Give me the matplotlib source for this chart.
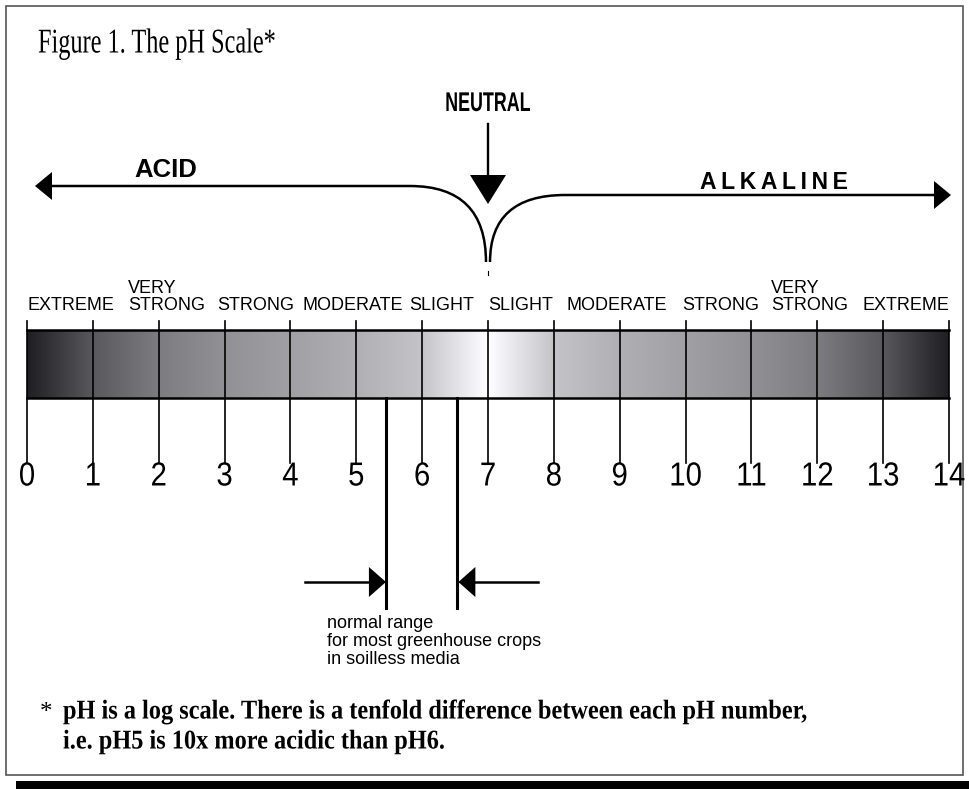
import numpy as np
import matplotlib
matplotlib.use("Agg")
import matplotlib.pyplot as plt
from matplotlib.patches import Polygon, Rectangle, PathPatch
from matplotlib.path import Path
from matplotlib.patheffects import AbstractPathEffect
from matplotlib.transforms import Affine2D

# pH scale data
ph_values = list(range(0, 15))
ph_labels = [str(v) for v in ph_values]
# grey level of the bar at every whole pH (0 = black, 1 = white)
bar_grey = [0.12, 0.35, 0.49, 0.57, 0.63, 0.69, 0.77, 1.0,
            0.77, 0.69, 0.63, 0.57, 0.49, 0.35, 0.12]
strength_labels = ["EXTREME", "VERY\nSTRONG", "STRONG", "MODERATE", "SLIGHT",
                   "SLIGHT", "MODERATE", "STRONG", "VERY\nSTRONG", "EXTREME"]
strength_pos = [0.67, 1.53, 3.47, 4.94, 6.30, 7.49, 8.95, 10.54, 11.30, 13.35]
strength_ha = ["center", "left", "center", "center", "center",
               "center", "center", "center", "left", "center"]
neutral_ph = 7
normal_range = [5.45, 6.53]

W, H = 969, 789
px_per_ph = 922 / 14.0
x0_px = 27

def ph(xpx):
    # pixel column -> pH position
    return (xpx - x0_px) / px_per_ph


class Condense(AbstractPathEffect):
    # squeeze the glyphs sideways around the text anchor (narrow type face look)
    def __init__(self, text, sx):
        super().__init__()
        self.text = text
        self.sx = sx

    def draw_path(self, renderer, gc, tpath, affine, rgbFace=None):
        x0 = self.text.get_transform().transform(self.text.get_position())[0]
        t = affine + Affine2D().translate(-x0, 0).scale(self.sx, 1).translate(x0, 0)
        renderer.draw_path(gc, tpath, t, rgbFace)


fig = plt.figure(figsize=(W / 100, H / 100), dpi=100)
ax = fig.add_axes([0, 0, 1, 1])
ax.set_xlim(ph(0), ph(W))
ax.set_ylim(H, 0)
ax.axis("off")

sans = ["Liberation Sans", "DejaVu Sans"]
serif = ["Liberation Serif", "DejaVu Serif"]

def txt(x, y, s, sx=1.0, **kw):
    t = ax.text(x, y, s, **kw)
    if sx != 1.0:
        t.set_path_effects([Condense(t, sx)])
    return t

# frame
ax.add_patch(Rectangle((ph(6), 6), ph(963) - ph(6), 769, fill=False,
                       ec="#555555", lw=1.2))
ax.add_patch(Rectangle((ph(16), 781), ph(969) - ph(16), 8, fc="black", ec="none"))

txt(ph(38), 44, "Figure 1. The pH Scale*", sx=0.7, family=serif, fontsize=25,
    ha="left", va="center")

# neutral arrow
txt(neutral_ph, 104, "NEUTRAL", sx=0.66, family=sans, fontsize=19.5, weight="bold",
    ha="center", va="center")
ax.plot([neutral_ph, neutral_ph], [124, 180], color="black", lw=1.7)
ax.add_patch(Polygon([(ph(470), 175), (ph(506), 175), (neutral_ph, 204)],
                     closed=True, fc="black", ec="none"))

# acid / alkaline arrows
acid = Path([(ph(486), 262), (ph(486), 186), (ph(410), 186), (ph(50), 186)],
            [Path.MOVETO, Path.CURVE3, Path.CURVE3, Path.LINETO])
alk = Path([(ph(490), 262), (ph(490), 195), (ph(565), 195), (ph(936), 195)],
           [Path.MOVETO, Path.CURVE3, Path.CURVE3, Path.LINETO])
for p in (acid, alk):
    ax.add_patch(PathPatch(p, fc="none", ec="black", lw=1.8))
ax.add_patch(Polygon([(ph(35), 186), (ph(52), 172), (ph(52), 200)],
                     closed=True, fc="black", ec="none"))
ax.add_patch(Polygon([(ph(951), 195), (ph(934), 181), (ph(934), 209)],
                     closed=True, fc="black", ec="none"))
ax.plot([neutral_ph, neutral_ph], [271, 275], color="black", lw=0.8)
txt(ph(166), 170, "ACID", family=sans, fontsize=18.5, weight="bold",
    ha="center", va="center")
txt(ph(774), 182, "A\u2009L\u2009K\u2009A\u2009L\u2009I\u2009N\u2009E",
    family=sans, fontsize=16.5, weight="bold", ha="center", va="center")

# strength labels
for lab, pos, ha in zip(strength_labels, strength_pos, strength_ha):
    txt(pos, 310, lab, family=sans, fontsize=13, ha=ha, va="baseline",
        linespacing=1.0)

# gradient bar
xs = np.linspace(0, 14, 1400)
g = np.interp(xs, ph_values, bar_grey)
img = np.stack([g, g, np.clip(g + 0.015, 0, 1)], axis=-1)[None, :, :]
ax.imshow(img, extent=(0, 14, 398, 330), aspect="auto", interpolation="bilinear",
          zorder=1)
ax.plot([0, 14], [330, 330], color="black", lw=1.8, zorder=3)
ax.plot([0, 14], [398, 398], color="black", lw=1.8, zorder=3)
for v, lab in zip(ph_values, ph_labels):
    ax.plot([v, v], [321, 463], color="black", lw=1.2, zorder=3)
    txt(v, 477, lab, sx=0.88, family=sans, fontsize=24, ha="center", va="center")

# normal range
lo, hi = normal_range
head = 17 / px_per_ph
ax.plot([lo, lo], [398, 608], color="black", lw=2.2)
ax.plot([hi, hi], [398, 608], color="black", lw=2.2)
ax.plot([ph(305), lo - head], [582, 582], color="black", lw=1.8)
ax.add_patch(Polygon([(lo, 582), (lo - head, 567), (lo - head, 597)],
                     closed=True, fc="black", ec="none"))
ax.plot([hi + head, ph(538)], [582, 582], color="black", lw=1.8)
ax.add_patch(Polygon([(hi + 0.02, 582), (hi + head + 0.02, 567), (hi + head + 0.02, 597)],
                     closed=True, fc="black", ec="none"))
txt(ph(327), 615, "normal range\nfor most greenhouse crops\nin soilless media",
    family=sans, fontsize=13, ha="left", va="top", linespacing=1.08)

# footnote
txt(ph(40), 713, "*", family=serif, fontsize=18, ha="left", va="center")
txt(ph(63), 712, "pH is a log scale. There is a tenfold difference between each pH number,",
    sx=0.898, family=serif, fontsize=19.5, weight="bold", ha="left", va="center")
txt(ph(63), 742, "i.e. pH5 is 10x more acidic than pH6.",
    sx=0.898, family=serif, fontsize=19.5, weight="bold", ha="left", va="center")

fig.savefig("out.png", dpi=100)
